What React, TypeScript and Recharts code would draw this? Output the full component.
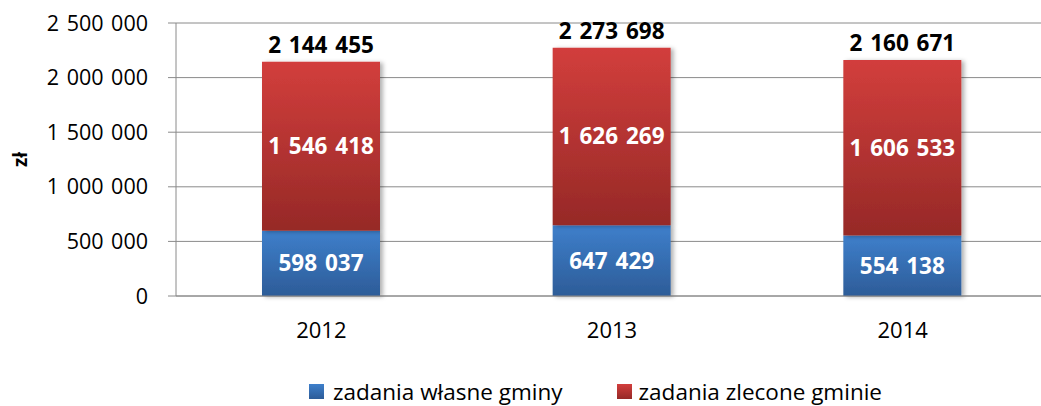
import React from 'react';
import { BarChart, Bar, XAxis, YAxis, CartesianGrid, LabelList, Legend } from 'recharts';

const categories = ['2012', '2013', '2014'];
const wlasne = [598037, 647429, 554138];
const zlecone = [1546418, 1626269, 1606533];
const yTicks = [0, 500000, 1000000, 1500000, 2000000, 2500000];
const edgeTicks = [0, 1, 2, 3];

const seriesNames = ['zadania własne gminy', 'zadania zlecone gminie'];

const data = categories.map((year, i) => ({
  year,
  wlasne: wlasne[i],
  zlecone: zlecone[i],
  total: wlasne[i] + zlecone[i],
}));

const FONT = '"Open Sans", sans-serif';
const GRID = '#8a8a8a';

const fmt = (v: any) => String(v).replace(/\B(?=(\d{3})+(?!\d))/g, ' ');

const YLabel = ({ viewBox }: any) => {
  const x = viewBox.x + 20;
  const y = viewBox.y + viewBox.height / 2;
  return (
    <text x={x} y={y} transform={`rotate(-90 ${x} ${y})`} textAnchor="middle" dominantBaseline="central"
      fontFamily={FONT} fontWeight={700} fontSize={19} fill="#000">
      zł
    </text>
  );
};

const LegendBox = () => (
  <div style={{ display: 'flex', alignItems: 'center', fontFamily: FONT, fontSize: 22.5, color: '#000', height: 30, wordSpacing: 0, whiteSpace: 'nowrap' }}>
    <span style={{ width: 15, height: 15, background: 'linear-gradient(#3e7fcb, #2d5c98)', marginRight: 9 }} />
    <span style={{ marginRight: 54 }}>{seriesNames[0]}</span>
    <span style={{ width: 15, height: 15, background: 'linear-gradient(#d23e3c, #962927)', marginRight: 7 }} />
    <span>{seriesNames[1]}</span>
  </div>
);

export default function App() {
  return (
    <div style={{ position: 'absolute', left: 0, top: 0, width: 1041, height: 406, overflow: 'hidden', background: '#fff', wordSpacing: '2px' }}>
      <BarChart width={1060} height={406} data={data} margin={{ top: 23, right: 12, left: 0, bottom: 60 }}>
        <defs>
          <linearGradient id="gBlue" x1="0" y1="0" x2="0" y2="1">
            <stop offset="0%" stopColor="#3e7fcb" />
            <stop offset="100%" stopColor="#2d5c98" />
          </linearGradient>
          <linearGradient id="gRed" x1="0" y1="0" x2="0" y2="1">
            <stop offset="0%" stopColor="#d23e3c" />
            <stop offset="100%" stopColor="#962927" />
          </linearGradient>
          <filter id="shadow" x="-10%" y="-10%" width="130%" height="120%">
            <feDropShadow dx="3" dy="1" stdDeviation="2" floodColor="#000" floodOpacity="0.3" />
          </filter>
        </defs>
        <CartesianGrid vertical={false} stroke={GRID} />
        <XAxis xAxisId="edge" type="number" domain={[0, 3]} ticks={edgeTicks} height={0}
          axisLine={false} tick={false} tickSize={8} tickLine={{ stroke: GRID }} />
        <XAxis dataKey="year" height={50} tickLine={false} tickSize={0} tickMargin={26}
          axisLine={{ stroke: GRID }} tick={{ fill: '#000', fontSize: 22, fontFamily: FONT }} />
        <YAxis width={176} domain={[0, 2500000]} ticks={yTicks} interval={0} tickFormatter={fmt}
          axisLine={{ stroke: GRID }} tickLine={{ stroke: GRID }} tickSize={8} tickMargin={20}
          tick={{ fill: '#000', fontSize: 21.5, fontFamily: FONT }} label={<YLabel />} />
        <Legend layout="horizontal" verticalAlign="middle" align="center" content={<LegendBox />}
          wrapperStyle={{ left: 309, top: 376, width: 'auto', height: 30 }} />
        <Bar dataKey="wlasne" name={seriesNames[0]} stackId="a" barSize={118} fill="url(#gBlue)"
          filter="url(#shadow)" isAnimationActive={false}>
          <LabelList dataKey="wlasne" position="center" formatter={fmt} fill="#fff"
            fontSize={22.5} fontWeight={700} fontFamily={FONT} />
        </Bar>
        <Bar dataKey="zlecone" name={seriesNames[1]} stackId="a" barSize={118} fill="url(#gRed)"
          filter="url(#shadow)" isAnimationActive={false}>
          <LabelList dataKey="zlecone" position="center" formatter={fmt} fill="#fff"
            fontSize={22.5} fontWeight={700} fontFamily={FONT} />
          <LabelList dataKey="total" position="top" offset={9} formatter={fmt} fill="#000"
            fontSize={22.5} fontWeight={700} fontFamily={FONT} />
        </Bar>
      </BarChart>
    </div>
  );
}
